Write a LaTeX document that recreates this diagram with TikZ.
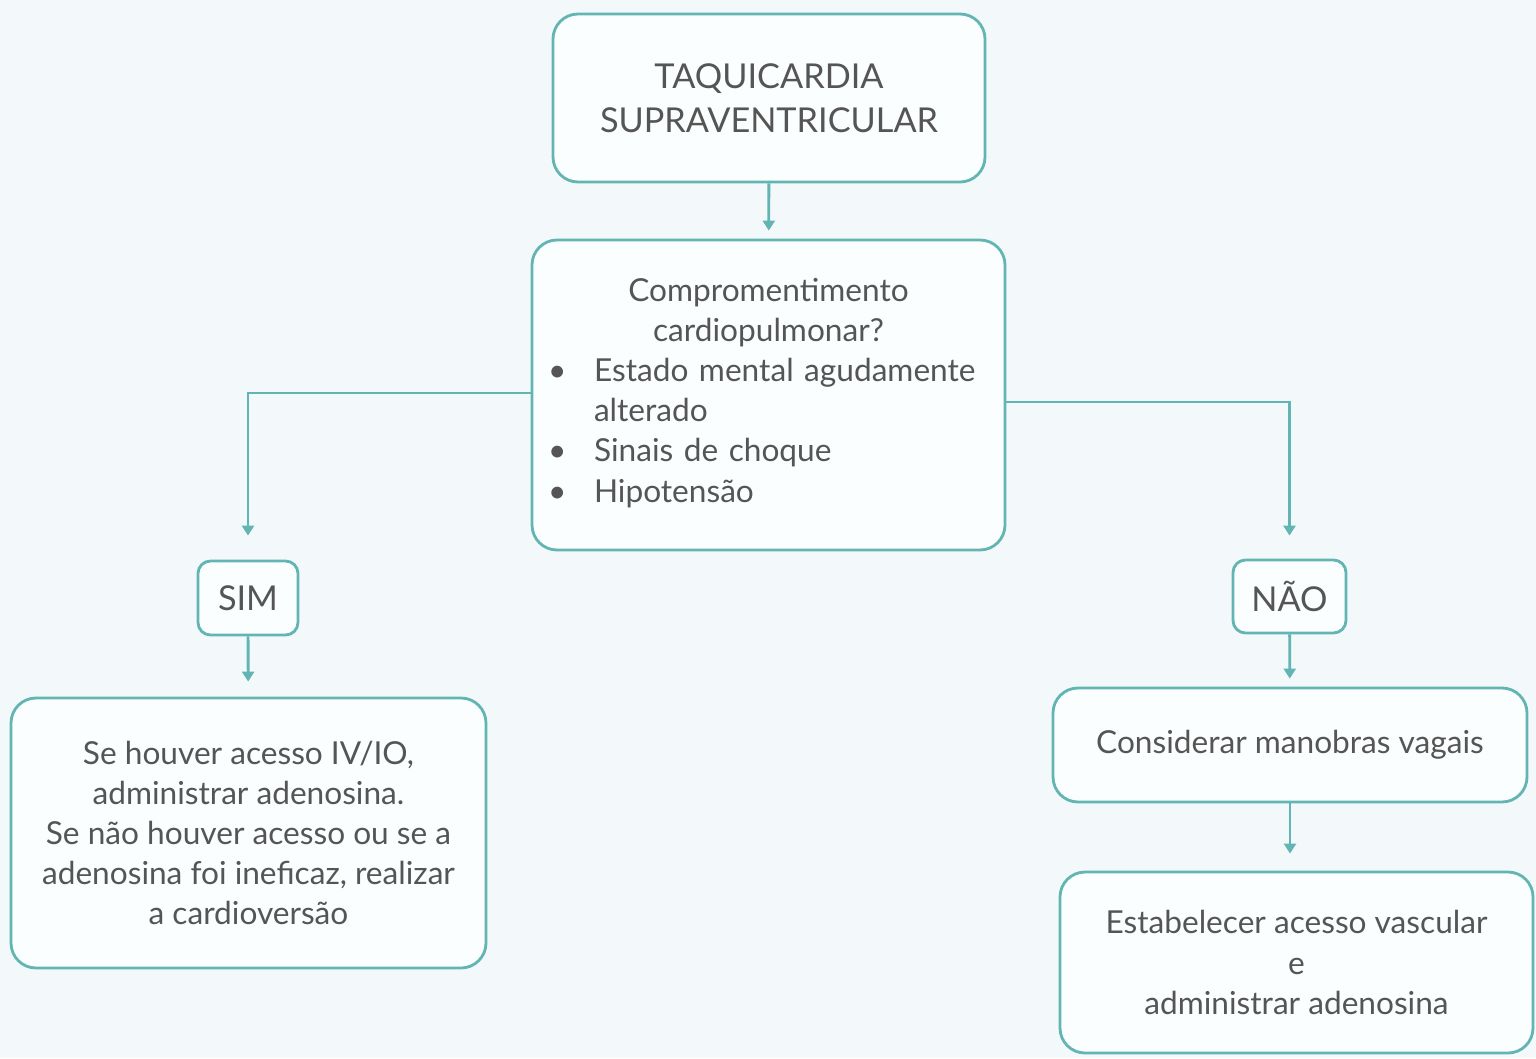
\documentclass[tikz,border=0pt]{standalone}
\usepackage{fontspec}
\setmainfont{Lato}
\usepackage{tikz}
\usetikzlibrary{arrows.meta,calc}
\definecolor{linha}{HTML}{62B5B3}
\definecolor{texto}{HTML}{555555}
\definecolor{fundo}{HTML}{F3F9FA}
\definecolor{caixa}{HTML}{FBFEFE}
\def\marca{\makebox[0.92cm][l]{\textbullet}}
\tikzset{
	caixa/.style={draw=linha, fill=caixa, line width=1.6pt, rounded corners=0.5cm, text=texto, align=center, inner sep=0pt},
	ligacao/.style={draw=linha, line width=1.6pt, -{Triangle[length=0.2cm,width=0.24cm]}},
	corpo/.style={font=\fontsize{18}{22.8}\selectfont}
}

\begin{document}
\begin{tikzpicture}
			%%%%% START %%%%%
			
			\fill[fundo] (0, 0) rectangle (30.72, -21.16);
			\useasboundingbox (0, 0) rectangle (30.72, -21.16);
			
			\node[caixa, minimum width=8.64cm, minimum height=3.36cm, font=\fontsize{19.5}{25}\selectfont] (taqui) at (15.38, -1.96) {TAQUICARDIA\\SUPRAVENTRICULAR};
			
			\node[caixa, corpo, minimum width=9.46cm, minimum height=6.2cm, text width=8.82cm, align=left] (quest) at (15.37, -7.9) {%
				\centering Compromentimento\\cardiopulmonar?\par
				\raggedright
				\marca Estado mental agudamente\\
				\hspace*{0.92cm}alterado\\
				\marca Sinais de choque\\
				\marca Hipotensão\par\vspace{0.08cm}};
			
			\node[caixa, minimum width=2.0cm, minimum height=1.48cm, font=\fontsize{19.5}{22}\selectfont, rounded corners=0.25cm] (sim) at (4.96, -11.96) {SIM};
			\node[caixa, minimum width=2.26cm, minimum height=1.46cm, font=\fontsize{19.5}{22}\selectfont, rounded corners=0.25cm] (nao) at (25.79, -11.93) {NÃO};
			
			\node[caixa, corpo, minimum width=9.5cm, minimum height=5.4cm] (cardio) at (4.97, -16.66) {Se houver acesso IV/IO,\\administrar adenosina.\\Se não houver acesso ou se a\\adenosina foi ineficaz, realizar\\a cardioversão};
			
			\node[caixa, corpo, minimum width=9.48cm, minimum height=2.28cm] (vagais) at (25.8, -14.9) {Considerar manobras vagais};
			\node[caixa, corpo, minimum width=9.46cm, minimum height=3.62cm] (estab) at (25.93, -19.25) {Estabelecer acesso vascular\\e\\administrar adenosina};
			
			%%%%% SETAS %%%%%
			
			\draw[ligacao, shorten >=0.16cm] (taqui) -- (quest);
			\draw[ligacao, shorten >=0.48cm] ([yshift=0.04cm]quest.west) -| (sim);
			\draw[ligacao, shorten >=0.46cm] ([yshift=-0.14cm]quest.east) -| (nao);
			\draw[ligacao, shorten >=0.3cm] (sim) -- (cardio);
			\draw[ligacao, shorten >=0.16cm] (nao) -- (vagais);
			\draw[ligacao, shorten >=0.34cm] (vagais.south) -- (vagais.south |- estab.north);
			
			%%%%% END %%%%%
\end{tikzpicture}
\end{document}
